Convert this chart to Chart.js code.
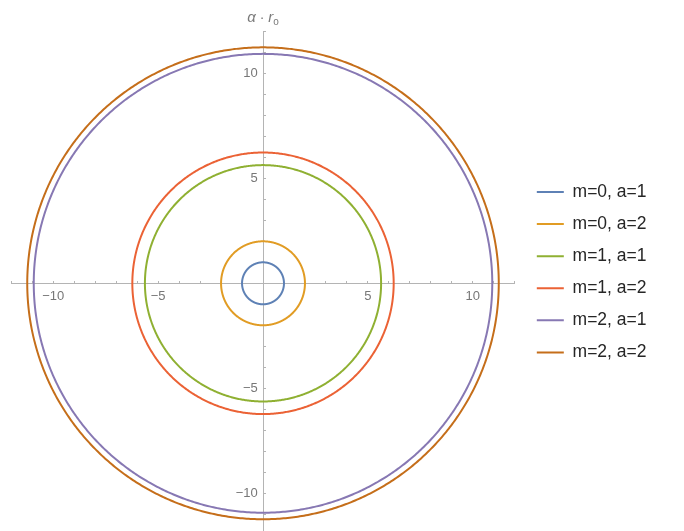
<!DOCTYPE html>
<html>
<head>
<meta charset="utf-8">
<script src="https://cdn.jsdelivr.net/npm/chart.js@4/dist/chart.umd.min.js"></script>
<style>
  html, body { margin: 0; padding: 0; background: #ffffff; }
  #wrap { width: 684px; height: 531px; position: relative; }
</style>
</head>
<body>
<div id="wrap"><canvas id="c"></canvas></div>
<script>
// Orbit radii (in units of α·r_o) for each (m, a) combination
const seriesLabels = ['m=0, a=1', 'm=0, a=2', 'm=1, a=1', 'm=1, a=2', 'm=2, a=1', 'm=2, a=2'];
const radii = [1.0, 2.0, 5.63, 6.23, 10.93, 11.24];
const seriesColors = ['#5E81B5', '#E19C24', '#8FB032', '#EB6235', '#8778B3', '#C56E1A'];
const labeledTicks = [-10, -5, 5, 10];

// Each radius is traced as a closed circle about the origin
function circlePoints(r) {
  const pts = [];
  for (let deg = 0; deg <= 360; deg += 1) {
    const t = deg * Math.PI / 180;
    pts.push({ x: r * Math.cos(t), y: r * Math.sin(t) });
  }
  return pts;
}

const datasets = radii.map((r, i) => ({
  label: seriesLabels[i],
  data: circlePoints(r),
  borderColor: seriesColors[i],
  backgroundColor: seriesColors[i],
  borderWidth: 2,
  showLine: true,
  fill: false,
  clip: false,
  pointRadius: 0,
  pointHoverRadius: 0,
  tension: 0.1
}));

const fam = "'Liberation Sans', Arial, sans-serif";
const tickFont = { family: fam, size: 13 };
const axisColor = '#b4b4b4';

function tickText(v) {
  if (!labeledTicks.includes(v)) return '';
  return v < 0 ? '\u2212' + Math.abs(v) : String(v);
}

// Axis caption "α·r_o" above the vertical axis
const axisCaption = {
  id: 'axisCaption',
  afterDraw(chart) {
    const ctx = chart.ctx;
    const x0 = chart.scales.x.getPixelForValue(0);
    const base = chart.chartArea.top - 9;
    const parts = [
      { t: '\u03b1', f: 'italic 15px ' + fam, dy: 0 },
      { t: ' \u00b7 ', f: '14px ' + fam, dy: 0 },
      { t: 'r', f: 'italic 15px ' + fam, dy: 0 },
      { t: 'o', f: '10px ' + fam, dy: 3 }
    ];
    ctx.save();
    let total = 0;
    parts.forEach(p => { ctx.font = p.f; p.w = ctx.measureText(p.t).width; total += p.w; });
    let x = x0 - total / 2;
    ctx.fillStyle = '#7a7a7a';
    ctx.textBaseline = 'alphabetic';
    ctx.textAlign = 'left';
    parts.forEach(p => { ctx.font = p.f; ctx.fillText(p.t, x, base + p.dy); x += p.w; });
    ctx.restore();
  }
};

// Leaves a small gap between the plot and the legend column
const legendGap = {
  id: 'legendGap',
  afterLayout(chart) {
    const lg = chart.legend;
    if (lg) { lg.left += 7.5; lg.right += 7.5; }
  }
};

// Axes crossing at the origin carry no edge padding
function noEdgePadding(s) {
  s.paddingTop = 0; s.paddingBottom = 0; s.paddingLeft = 0; s.paddingRight = 0;
}

new Chart(document.getElementById('c'), {
  type: 'scatter',
  data: { datasets },
  options: {
    responsive: true,
    maintainAspectRatio: false,
    animation: false,
    layout: { padding: { left: 11.3, top: 31.4, bottom: 0, right: 35 } },
    scales: {
      x: {
        type: 'linear', min: -12, max: 12,
        position: { y: 0 },
        afterFit: noEdgePadding,
        border: { display: true, color: axisColor, width: 1 },
        grid: { display: true, drawOnChartArea: false, drawTicks: true, tickLength: -3,
                tickColor: ctx => (ctx.tick && ctx.tick.value === 0 ? 'rgba(0,0,0,0)' : axisColor) },
        ticks: { stepSize: 1, autoSkip: false, maxRotation: 0, minRotation: 0, includeBounds: false,
                 padding: 8.5, color: '#777777', font: tickFont, callback: v => tickText(v) }
      },
      y: {
        type: 'linear', min: -11.8, max: 12,
        position: { x: 0 },
        afterFit: noEdgePadding,
        border: { display: true, color: axisColor, width: 1 },
        grid: { display: true, drawOnChartArea: false, drawTicks: true, tickLength: -3,
                tickColor: ctx => (ctx.tick && ctx.tick.value === 0 ? 'rgba(0,0,0,0)' : axisColor) },
        ticks: { stepSize: 1, autoSkip: false, includeBounds: false,
                 padding: 5, color: '#777777', font: tickFont,
                 callback: v => { const t = tickText(v); return t ? t + '\u2009\u2009' : ''; } }
      }
    },
    plugins: {
      legend: {
        position: 'right',
        align: 'start',
        title: { display: true, text: '', font: { size: 12 }, padding: { top: 122.8, bottom: 0 } },
        labels: {
          boxWidth: 27, boxHeight: 2, padding: 14.6,
          color: '#262626',
          font: { family: fam, size: 17.5 },
          generateLabels: chart => Chart.defaults.plugins.legend.labels.generateLabels(chart)
            .map(item => Object.assign(item, { lineWidth: 0 }))
        }
      },
      tooltip: { enabled: false }
    }
  },
  plugins: [axisCaption, legendGap]
});
</script>
</body>
</html>
